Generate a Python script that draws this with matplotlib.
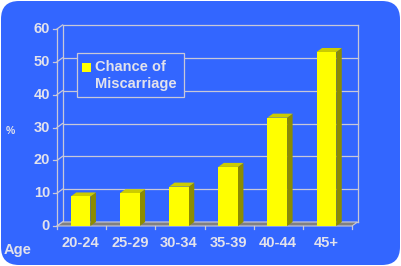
import matplotlib
matplotlib.use("Agg")
import matplotlib.pyplot as plt
from matplotlib.patches import Polygon, FancyBboxPatch, Rectangle

categories = ["20-24", "25-29", "30-34", "35-39", "40-44", "45+"]
values = [9, 10, 12, 18, 33, 53]
y_ticks = [0, 10, 20, 30, 40, 50, 60]
legend_label = "Chance of\nMiscarriage"

W, H = 401, 266
BLUE = "#3366FF"
TXT = "#E2E2EC"
GRID = "#C8C8D8"
FRONT = "#FFFF00"
SIDE = "#8C8C00"
TOP = "#CCCC00"
FLOOR = "#808080"
FS = 10.5

fig = plt.figure(figsize=(W / 100, H / 100), dpi=100)
fig.patch.set_facecolor("white")
bg = FancyBboxPatch((1 / W, 1 / H), (W - 2) / W, (H - 2) / H,
                    boxstyle="round,pad=0,rounding_size=0.045",
                    transform=fig.transFigure, facecolor=BLUE, edgecolor="none",
                    mutation_aspect=W / H, zorder=-10)
fig.patches.append(bg)

x0, x1, y0, y1 = 57, 352, 226, 29
ax = fig.add_axes([x0 / W, (H - y0) / H, (x1 - x0) / W, (y0 - y1) / H])
ax.set_xlim(0, len(categories))
ax.set_ylim(0, 60)
ax.axis("off")

n = len(categories)
pxx = (x1 - x0) / n
pxy = (y0 - y1) / 60
dx = 5.5 / pxx
dy = 4 / pxy

# floor
ax.add_patch(Polygon([(0, 0), (n, 0), (n + dx, dy), (dx, dy)], closed=True,
                     facecolor=FLOOR, edgecolor=GRID, lw=0.8, clip_on=False, zorder=1))
# back wall gridlines & left wall
for v in y_ticks:
    ax.plot([dx, n + dx], [v + dy, v + dy], color=GRID, lw=0.9, clip_on=False, zorder=0.5)
    ax.plot([0, dx], [v, v + dy], color=GRID, lw=0.9, clip_on=False, zorder=0.5)
    ax.plot([-4 / pxx, 0], [v, v], color=GRID, lw=0.9, clip_on=False, zorder=0.5)
    ax.text(-7 / pxx, v, str(v), ha="right", va="center", color=TXT,
            fontsize=FS, fontweight="bold", family="Liberation Sans")
ax.plot([dx, dx], [dy, 60 + dy], color=GRID, lw=0.9, clip_on=False, zorder=0.5)
ax.plot([n + dx, n + dx], [dy, 60 + dy], color=GRID, lw=0.9, clip_on=False, zorder=0.5)
ax.plot([0, 0], [0, 60], color=GRID, lw=0.9, clip_on=False, zorder=0.5)
# x ticks
for k in range(n + 1):
    ax.plot([k, k], [0, -3 / pxy], color=GRID, lw=0.9, clip_on=False)

# bars
bw = 0.40
for i, (c, v) in enumerate(zip(categories, values)):
    left = i + 0.28
    right = left + bw
    ax.add_patch(Polygon([(right, 0), (right + dx, dy), (right + dx, v + dy), (right, v)],
                         closed=True, facecolor=SIDE, edgecolor="none", clip_on=False, zorder=3))
    ax.add_patch(Polygon([(left, v), (right, v), (right + dx, v + dy), (left + dx, v + dy)],
                         closed=True, facecolor=TOP, edgecolor="none", clip_on=False, zorder=3))
    ax.add_patch(Rectangle((left, 0), bw, v, facecolor=FRONT, edgecolor="none",
                           clip_on=False, zorder=4))
    ax.text(i + 0.48, -17 / pxy, c, ha="center", va="center", color=TXT,
            fontsize=FS, fontweight="bold", family="Liberation Sans")

# legend
lx0, ly0, lx1, ly1 = 77, 53, 184, 97
fig.patches.append(Rectangle((lx0 / W, (H - ly1) / H), (lx1 - lx0) / W, (ly1 - ly0) / H,
                             transform=fig.transFigure, facecolor=BLUE, edgecolor=GRID,
                             lw=0.9, zorder=5))
fig.patches.append(Rectangle((82 / W, (H - 72) / H), 9 / W, 9 / H,
                             transform=fig.transFigure, facecolor=FRONT, edgecolor="none",
                             zorder=6))
fig.text(95 / W, (H - 75.5) / H, legend_label, ha="left", va="center", color=TXT,
         fontsize=FS, fontweight="bold", family="Liberation Sans",
         linespacing=1.35, zorder=7)

fig.text(10 / W, (H - 131) / H, "%", ha="center", va="center", color=TXT,
         fontsize=7.5, fontweight="bold", family="Liberation Sans")
fig.text(4 / W, (H - 250) / H, "Age", ha="left", va="center", color=TXT,
         fontsize=FS, fontweight="bold", family="Liberation Sans")

fig.savefig("out.png", dpi=100, facecolor="white")
